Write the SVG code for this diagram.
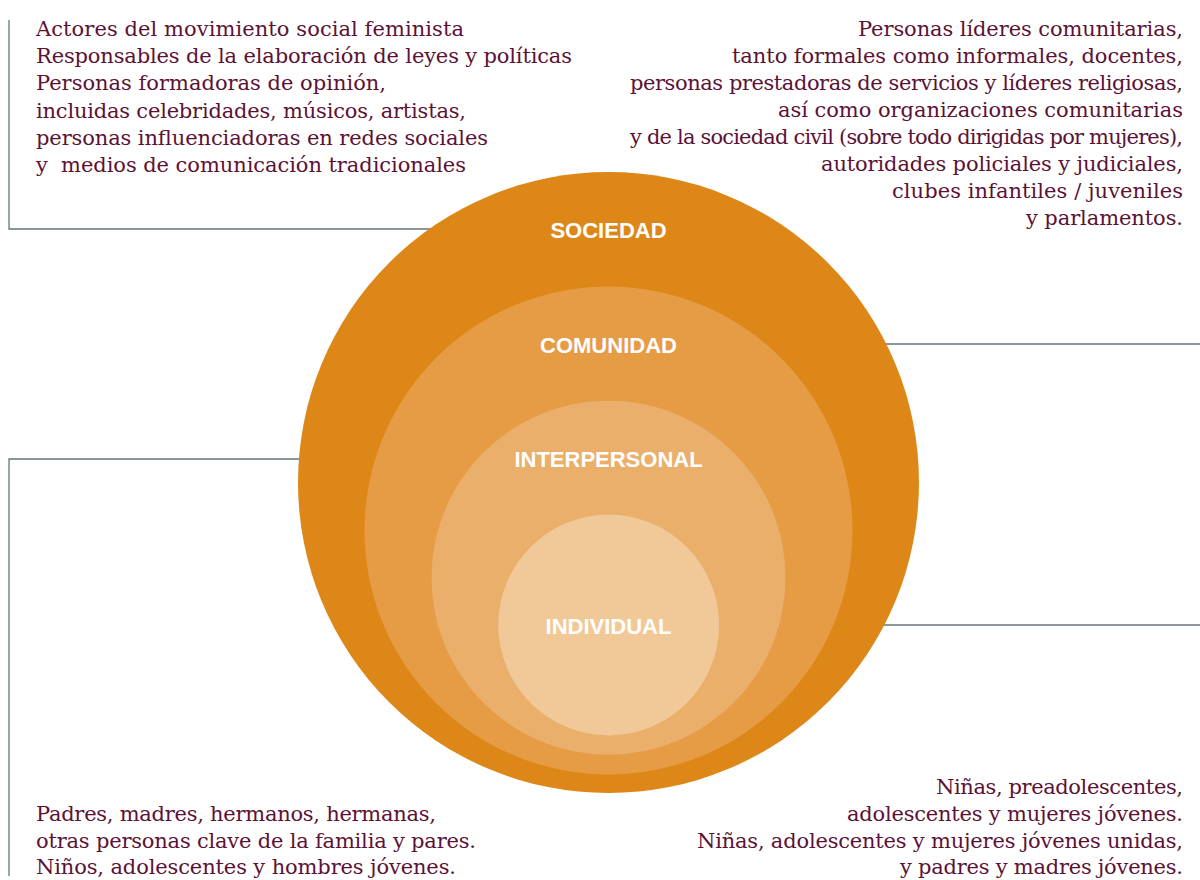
<svg xmlns="http://www.w3.org/2000/svg" width="1200" height="880" viewBox="0 0 1200 880">
<style>
.conn{fill:none;stroke:#66767E;stroke-width:1.3}
.t{font-family:"DejaVu Serif","Liberation Serif",serif;font-size:21px;fill:#5C1236}
.r{text-anchor:end}
.lbl{font-family:"Liberation Sans",Arial,sans-serif;font-weight:bold;font-size:22px;fill:#FFFFFF;text-anchor:middle}
</style>
<rect width="1200" height="880" fill="#FFFFFF"/>
<g id="connectors">
<polyline class="conn" points="9,20 9,229 440,229"/>
<polyline class="conn" points="880,344 1200,344"/>
<polyline class="conn" points="9,876 9,459 310,459"/>
<polyline class="conn" points="880,625 1200,625"/>
</g>
<g id="sociedad">
<circle cx="608.5" cy="482.5" r="310.5" fill="#DE8719"/>
<text class="lbl" x="608.5" y="237.5">SOCIEDAD</text>
</g>
<g id="comunidad">
<circle cx="608.5" cy="530.5" r="244" fill="#E69B45"/>
<text class="lbl" x="608.5" y="352.5">COMUNIDAD</text>
</g>
<g id="interpersonal">
<circle cx="608.5" cy="577.7" r="177" fill="#EBAF6C"/>
<text class="lbl" x="608.5" y="466.5">INTERPERSONAL</text>
</g>
<g id="individual">
<circle cx="608.7" cy="625" r="110.4" fill="#F1C898"/>
<text class="lbl" x="608.5" y="633.5">INDIVIDUAL</text>
</g>
<g id="text-sociedad">
<text class="t" x="36" y="36" textLength="428">Actores del movimiento social feminista</text>
<text class="t" x="36" y="63.2" textLength="536">Responsables de la elaboración de leyes y políticas</text>
<text class="t" x="36" y="90.4" textLength="350">Personas formadoras de opinión,</text>
<text class="t" x="36" y="117.6" textLength="430">incluidas celebridades, músicos, artistas,</text>
<text class="t" x="36" y="144.8" textLength="452">personas influenciadoras en redes sociales</text>
<text class="t" x="36" y="172" textLength="430" xml:space="preserve">y  medios de comunicación tradicionales</text>
</g>
<g id="text-comunidad">
<text class="t r" x="1183" y="36" textLength="325">Personas líderes comunitarias,</text>
<text class="t r" x="1183" y="63" textLength="451">tanto formales como informales, docentes,</text>
<text class="t r" x="1183" y="90" textLength="553">personas prestadoras de servicios y líderes religiosas,</text>
<text class="t r" x="1183" y="117" textLength="405">así como organizaciones comunitarias</text>
<text class="t r" x="1183" y="144" textLength="553">y de la sociedad civil (sobre todo dirigidas por mujeres),</text>
<text class="t r" x="1183" y="171" textLength="362">autoridades policiales y judiciales,</text>
<text class="t r" x="1183" y="198" textLength="291">clubes infantiles / juveniles</text>
<text class="t r" x="1183" y="225" textLength="157">y parlamentos.</text>
</g>
<g id="text-interpersonal">
<text class="t" x="36" y="821" textLength="400">Padres, madres, hermanos, hermanas,</text>
<text class="t" x="36" y="848" textLength="440">otras personas clave de la familia y pares.</text>
<text class="t" x="36" y="874" textLength="420">Niños, adolescentes y hombres jóvenes.</text>
</g>
<g id="text-individual">
<text class="t r" x="1183" y="794" textLength="247">Niñas, preadolescentes,</text>
<text class="t r" x="1183" y="821" textLength="336">adolescentes y mujeres jóvenes.</text>
<text class="t r" x="1183" y="848" textLength="486">Niñas, adolescentes y mujeres jóvenes unidas,</text>
<text class="t r" x="1183" y="874" textLength="283">y padres y madres jóvenes.</text>
</g>
</svg>
